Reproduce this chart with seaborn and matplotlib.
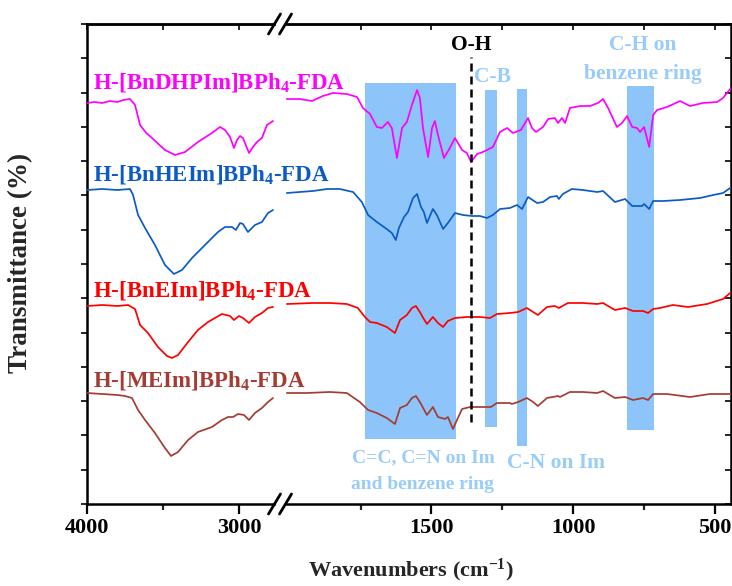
import matplotlib
matplotlib.use("Agg")
import matplotlib.pyplot as plt
import seaborn as sns
import pandas as pd
from matplotlib.lines import Line2D
from matplotlib.patches import Rectangle
from matplotlib.ticker import MultipleLocator, FixedLocator, NullFormatter

# ---------------- data ----------------
SERIES = ["H-[BnDHPIm]BPh4-FDA", "H-[BnHEIm]BPh4-FDA", "H-[BnEIm]BPh4-FDA", "H-[MEIm]BPh4-FDA"]
LABELS = [r"H-[BnDHPIm]BPh$_4$-FDA", r"H-[BnHEIm]BPh$_4$-FDA",
          r"H-[BnEIm]BPh$_4$-FDA", r"H-[MEIm]BPh$_4$-FDA"]
COLORS = ["#FF00FF", "#0B5BC6", "#FF0000", "#A43C34"]

# high-wavenumber segment (4000 - 2700 cm-1)
PK_L_W = [4000, 3950, 3900, 3850, 3800, 3760, 3717, 3684, 3651, 3610,
          3572, 3530, 3487, 3421, 3355, 3270, 3178, 3125, 3092, 3059,
          3033, 3013, 2993, 2974, 2934, 2908, 2882, 2849, 2816, 2776]
PK_L_V = [401, 402, 401, 403, 402, 404, 405, 399, 379, 371,
          366, 360, 354, 349, 352, 362, 371, 377, 374, 367,
          356, 364, 368, 366, 351, 357, 362, 366, 379, 383]
BL_L_W = [4000, 3900, 3800, 3717, 3697, 3664, 3618, 3553, 3487, 3428, 3375, 3309,
          3224, 3138, 3092, 3046, 3020, 2993, 2974, 2941, 2895, 2849, 2809, 2776]
BL_L_V = [314, 315, 314, 315, 309, 289, 276, 259, 239, 230, 234, 246,
          259, 272, 277, 277, 274, 281, 280, 272, 279, 282, 291, 294]
RD_L_W = [4000, 3900, 3800, 3730, 3684, 3651, 3599, 3533, 3474, 3441, 3401, 3335,
          3270, 3204, 3112, 3059, 3033, 3000, 2974, 2934, 2895, 2849, 2809, 2776]
RD_L_V = [198, 199, 198, 199, 195, 179, 171, 157, 148, 146, 149, 162,
          174, 182, 190, 188, 184, 188, 186, 181, 187, 191, 196, 197]
BR_L_W = [4000, 3900, 3800, 3750, 3704, 3664, 3618, 3553, 3487, 3447, 3401, 3335,
          3270, 3178, 3112, 3072, 3039, 3006, 2967, 2934, 2895, 2849, 2809, 2776]
BR_L_V = [111, 110, 109, 108, 106, 94, 84, 71, 56, 48, 52, 64,
          72, 77, 84, 87, 87, 90, 89, 84, 91, 96, 102, 106]

# low-wavenumber segment (2000 - 440 cm-1)
PK_R_W = [2011, 1965, 1922, 1884, 1848, 1799, 1763, 1742, 1717, 1693,
          1675, 1654, 1640, 1622, 1604, 1587, 1569, 1551, 1541, 1530,
          1512, 1498, 1488, 1477, 1456, 1435, 1417, 1392, 1375, 1360,
          1339, 1318, 1283, 1258, 1233, 1212, 1184, 1159, 1145, 1131,
          1106, 1088, 1064, 1053, 1039, 1028, 1011, 975, 940, 912,
          894, 876, 845, 827, 809, 791, 774, 763, 749, 731,
          717, 703, 668, 622, 587, 541, 491, 470, 445]
PK_R_V = [405, 405, 403, 408, 411, 410, 407, 396, 390, 377,
          376, 382, 376, 346, 376, 382, 399, 414, 406, 376,
          347, 376, 383, 369, 346, 356, 366, 354, 351, 342,
          350, 352, 357, 372, 376, 371, 374, 386, 376, 372,
          377, 385, 386, 381, 386, 381, 396, 398, 398, 401,
          405, 396, 377, 381, 388, 377, 376, 372, 377, 357,
          389, 394, 397, 403, 398, 401, 402, 406, 415]
BL_R_W = [2011, 1965, 1919, 1869, 1824, 1777, 1746, 1724, 1693, 1658,
          1640, 1626, 1615, 1597, 1583, 1565, 1551, 1537, 1527, 1516,
          1495, 1481, 1459, 1442, 1417, 1389, 1357, 1329, 1304, 1283,
          1258, 1223, 1198, 1180, 1159, 1127, 1106, 1081, 1057, 1050,
          1036, 1004, 965, 915, 894, 852, 816, 791, 756, 749,
          731, 717, 682, 622, 551, 505, 470, 445]
BL_R_V = [311, 312, 313, 315, 315, 312, 302, 289, 282, 275,
          271, 264, 276, 287, 292, 306, 310, 297, 292, 281,
          295, 289, 275, 281, 291, 289, 288, 288, 286, 289,
          295, 296, 299, 295, 307, 301, 302, 307, 308, 305,
          310, 315, 314, 312, 313, 302, 305, 298, 298, 300,
          295, 303, 303, 304, 306, 309, 311, 316]
RD_R_W = [2011, 1919, 1859, 1799, 1760, 1735, 1717, 1693, 1658, 1629,
          1611, 1587, 1569, 1555, 1541, 1527, 1516, 1495, 1477, 1459,
          1442, 1417, 1375, 1329, 1293, 1269, 1223, 1194, 1163, 1141,
          1124, 1092, 1064, 1050, 1018, 965, 915, 894, 852, 816,
          788, 753, 735, 717, 693, 647, 594, 527, 470, 445]
RD_R_V = [200, 201, 201, 200, 196, 187, 182, 181, 177, 171,
          184, 189, 196, 198, 192, 185, 180, 187, 181, 177,
          183, 186, 187, 187, 186, 190, 191, 192, 196, 192,
          189, 197, 198, 196, 201, 201, 200, 201, 194, 196,
          193, 193, 191, 195, 196, 199, 197, 200, 205, 211]
BR_R_W = [2011, 1940, 1859, 1799, 1753, 1724, 1693, 1658, 1629, 1611,
          1587, 1569, 1555, 1541, 1516, 1495, 1477, 1452, 1442, 1424,
          1410, 1392, 1364, 1318, 1290, 1269, 1223, 1216, 1194, 1163,
          1141, 1124, 1092, 1053, 1046, 1011, 965, 915, 894, 852,
          816, 788, 753, 735, 717, 668, 587, 516, 445]
BR_R_V = [111, 111, 112, 111, 102, 94, 91, 86, 80, 96,
          99, 106, 108, 102, 89, 97, 87, 85, 87, 75,
          84, 95, 97, 97, 97, 101, 101, 100, 102, 106,
          102, 98, 106, 108, 107, 112, 112, 111, 113, 106,
          107, 104, 106, 104, 110, 110, 107, 110, 110]

# highlighted bands (cm-1) and their vertical extent
BAND_HI = [1735, 1311, 1198, 809]
BAND_LO = [1413, 1269, 1163, 714]
BAND_BOTTOM = [65, 77, 58, 74]
BAND_TOP = [421, 414, 415, 418]
OH_POS = 1360
OH_RANGE = [82, 447]

LEFT_TICKS = [4000, 3000]
LEFT_MINOR = [3500]
RIGHT_TICKS = [1500, 1000, 500]
RIGHT_MINOR = [1750, 1250, 750]

# ---------------- styling ----------------
sns.set_theme(style="ticks")
plt.rcParams["font.family"] = ["Liberation Serif", "DejaVu Serif"]
plt.rcParams["font.weight"] = "bold"
plt.rcParams["mathtext.fontset"] = "custom"
plt.rcParams["mathtext.rm"] = "Liberation Serif:bold"
plt.rcParams["mathtext.bf"] = "Liberation Serif:bold"
plt.rcParams["mathtext.it"] = "Liberation Serif:bold:italic"

BAND_COLOR = "#8DC5FA"
BAND_TEXT = "#99CCFA"
FW, FH = 732, 586

left_df = pd.concat([
    pd.DataFrame({"w": w, "v": v, "s": s})
    for w, v, s in zip([PK_L_W, BL_L_W, RD_L_W, BR_L_W],
                       [PK_L_V, BL_L_V, RD_L_V, BR_L_V], SERIES)])
right_df = pd.concat([
    pd.DataFrame({"w": w, "v": v, "s": s})
    for w, v, s in zip([PK_R_W, BL_R_W, RD_R_W, BR_R_W],
                       [PK_R_V, BL_R_V, RD_R_V, BR_R_V], SERIES)])

fig = plt.figure(figsize=(FW / 100, FH / 100), dpi=100)
ax2 = fig.add_axes([282 / FW, 82 / FH, 449 / FW, 480 / FH])
ax1 = fig.add_axes([87 / FW, 82 / FH, 195 / FW, 480 / FH])
ax1.set_zorder(3)
ax2.set_zorder(2)
ax1.patch.set_alpha(0)
ax2.patch.set_alpha(0)

# bands
centers = [(a + b) / 2 for a, b in zip(BAND_HI, BAND_LO)]
widths = [a - b for a, b in zip(BAND_HI, BAND_LO)]
heights = [t - b for t, b in zip(BAND_TOP, BAND_BOTTOM)]
ax2.bar(centers, heights, width=widths, bottom=BAND_BOTTOM, color=BAND_COLOR,
        linewidth=0, zorder=1)

palette = dict(zip(SERIES, COLORS))
sns.lineplot(data=left_df, x="w", y="v", hue="s", palette=palette, ax=ax1,
             estimator=None, sort=False, linewidth=1.25, legend=False, zorder=3)
sns.lineplot(data=right_df, x="w", y="v", hue="s", palette=palette, ax=ax2,
             estimator=None, sort=False, linewidth=1.25, legend=False, zorder=3)

ax2.plot([OH_POS, OH_POS], OH_RANGE, color="black", lw=1.8,
         linestyle=(0, (3.2, 2.0)), zorder=4)

for ax in (ax1, ax2):
    ax.set_ylim(0, 480)
    ax.set_xlabel("")
    ax.set_ylabel("")
    for sp in ax.spines.values():
        sp.set_linewidth(1.8)
        sp.set_color("black")
    ax.yaxis.set_major_locator(MultipleLocator(480 / 14))
    ax.yaxis.set_major_formatter(NullFormatter())

ax1.set_xlim(4000, 2717)
ax2.set_xlim(2028, 442)
ax1.spines["right"].set_visible(False)
ax2.spines["left"].set_visible(False)

ax1.xaxis.set_major_locator(FixedLocator(LEFT_TICKS))
ax1.xaxis.set_minor_locator(FixedLocator(LEFT_MINOR))
ax2.xaxis.set_major_locator(FixedLocator(RIGHT_TICKS))
ax2.xaxis.set_minor_locator(FixedLocator(RIGHT_MINOR))
for ax in (ax1, ax2):
    ax.tick_params(axis="x", which="major", direction="out", length=7, width=1.6,
                   labelsize=16, pad=3, colors="black")
    ax.tick_params(axis="x", which="minor", direction="out", length=4, width=1.6)
    for lab in ax.get_xticklabels():
        lab.set_fontweight("bold")
    sec = ax.secondary_xaxis("top")
    sec.xaxis.set_major_locator(ax.xaxis.get_major_locator())
    sec.xaxis.set_minor_locator(ax.xaxis.get_minor_locator())
    sec.xaxis.set_major_formatter(NullFormatter())
    sec.tick_params(which="both", direction="in", length=4, width=1.4)
    sec.spines["top"].set_linewidth(1.8)

ax1.tick_params(axis="y", direction="out", length=4, width=1.4, left=True, right=False)
ax2.tick_params(axis="y", direction="in", length=4, width=1.4, left=False, right=True)

# series labels
LABEL_BASE = [416, 324, 207, 118]
for lab, col, yb in zip(LABELS, COLORS, LABEL_BASE):
    ax1.text(3960, yb, lab, color=col, fontsize=16.5, fontweight="bold",
             ha="left", va="baseline", clip_on=False, zorder=5)

# annotations
ax2.text(OH_POS, 454, "O-H", color="black", fontsize=15.5, fontweight="bold",
         ha="center", va="baseline", zorder=5)
ax2.text(1350, 422, "C-B", color=BAND_TEXT, fontsize=15.5, fontweight="bold",
         ha="left", va="baseline", zorder=5)
ax2.text(755, 454, "C-H on", color=BAND_TEXT, fontsize=15.5, fontweight="bold",
         ha="center", va="baseline", zorder=5)
ax2.text(755, 425, "benzene ring", color=BAND_TEXT, fontsize=15.5, fontweight="bold",
         ha="center", va="baseline", zorder=5)
ax2.text(1530, 42, "C=C, C=N on Im", color=BAND_TEXT, fontsize=14, fontweight="bold",
         ha="center", va="baseline", zorder=5)
ax2.text(1530, 15, "and benzene ring", color=BAND_TEXT, fontsize=14, fontweight="bold",
         ha="center", va="baseline", zorder=5)
ax2.text(1060, 36, "C-N on Im", color=BAND_TEXT, fontsize=15.5, fontweight="bold",
         ha="center", va="baseline", zorder=5)

# axis titles
fig.text(21 / FW, 1 - 263 / FH, "Transmittance (%)", rotation=90, fontsize=19.5,
         fontweight="bold", ha="center", va="center")
fig.text(411 / FW, 1 - 570 / FH, r"Wavenumbers (cm$^{-1}$)", fontsize=16,
         fontweight="bold", ha="center", va="center")

# axis-break marks
def brk(yc):
    fig.add_artist(Rectangle((276 / FW, 1 - (yc + 3) / FH), 8 / FW, 6 / FH,
                             transform=fig.transFigure, color="white", zorder=10))
    for xc in (274.5, 285.5):
        fig.add_artist(Line2D([(xc - 6) / FW, (xc + 6) / FW],
                              [1 - (yc + 10) / FH, 1 - (yc - 10) / FH],
                              transform=fig.transFigure, color="black", lw=2.0,
                              zorder=11))

brk(24)
brk(504)

fig.savefig("out.png", dpi=100)
